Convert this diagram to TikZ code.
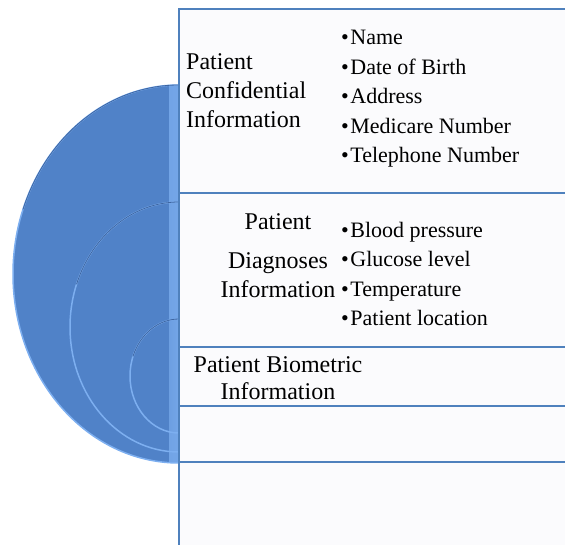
\documentclass[tikz,border=0pt]{standalone}
\usepackage{fontspec}
\setmainfont{Liberation Serif}
\usepackage{tikz}
\usetikzlibrary{calc}
\definecolor{diskblue}{RGB}{80,130,200}
\definecolor{diskrim}{RGB}{125,175,240}
\definecolor{diskdark}{RGB}{62,102,162}
\definecolor{lineblue}{RGB}{79,129,189}
\definecolor{rowfill}{RGB}{251,251,253}
\begin{document}
\begin{tikzpicture}[x=1pt,y=-1pt]
      \newcommand{\bul}{\textbullet\kern1.5pt}
      \tikzstyle{rowline} = [line width=2pt,draw=lineblue]
      \tikzstyle{disk} = [
        fill=diskblue,
        draw=diskrim,
        line width=1.5pt,
        path picture={\shade[left color=diskblue,right color=diskrim!80!diskblue] (169,0) rectangle (179,545);},
      ]
      \tikzstyle{label} = [
        inner sep=0pt,
        font=\fontsize{24}{29}\selectfont,
      ]
      \tikzstyle{items} = [
        inner sep=0pt,
        anchor=west,
        align=left,
        font=\fontsize{22}{29.5}\selectfont,
      ]

      \useasboundingbox (0,0) rectangle (565,545);

      \foreach \cy/\rx/\ry in {274/166/189, 327/109/125, 376/49/57} {
        \draw[disk] (179,\cy-\ry) arc[start angle=270,end angle=90,x radius=\rx,y radius=\ry] -- cycle;
        \draw[diskdark,line width=0.8pt] (179,\cy-\ry) arc[start angle=270,end angle=200,x radius=\rx,y radius=\ry];
      }

      \fill[rowfill] (179,9) rectangle (565,545);
      \draw[rowline] (565,9) -- (179,9) -- (179,545);
      \foreach \y in {193,347,406,462}
        \draw[rowline] (179,\y) -- (565,\y);

      \node[label,anchor=west,align=left] (conf) at (186,91) {Patient\\Confidential\\Information};
      \node[items] (confitems) at (341,99) {\bul Name\\\bul Date of Birth\\\bul Address\\\bul Medicare Number\\\bul Telephone Number};
      \node[label,align=center] (diag) at (278,256) {Patient\\[10pt]Diagnoses\\Information};
      \node[items] (diagitems) at (341,274) {\bul Blood pressure\\\bul Glucose level\\\bul Temperature\\\bul Patient location};
      \node[label,align=center,font=\fontsize{24}{27}\selectfont] (bio) at (278,378) {Patient Biometric\\Information};
    \end{tikzpicture}
\end{document}
